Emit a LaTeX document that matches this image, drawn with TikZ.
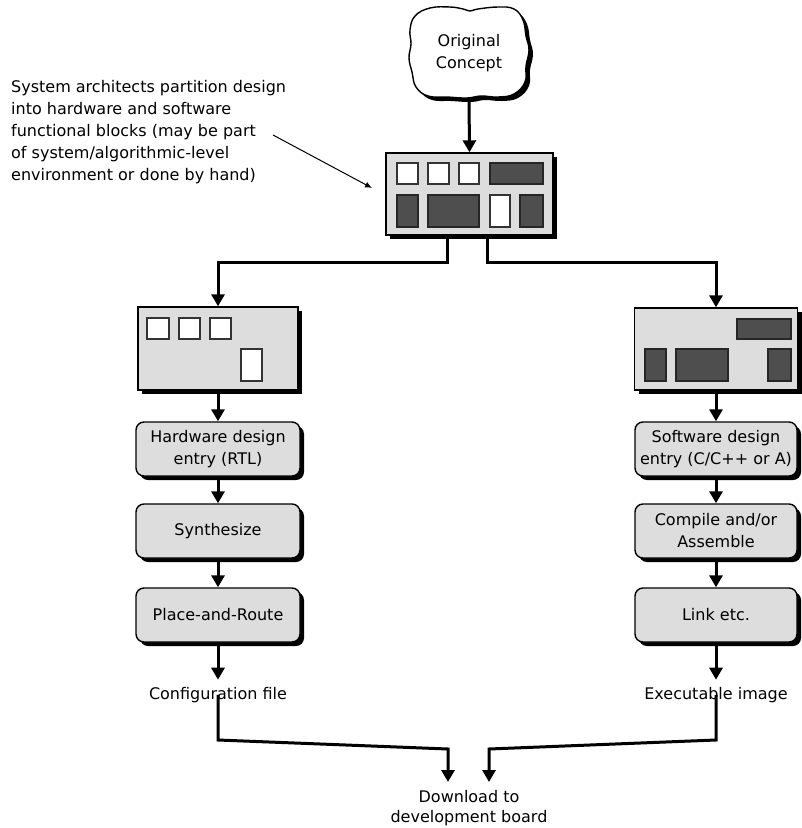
\documentclass[tikz,border=0pt]{standalone}
\usepackage{fontspec}
\setmainfont{DejaVu Sans}
\usetikzlibrary{arrows.meta,shadows}
\definecolor{boxgray}{HTML}{DDDDDD}
\definecolor{darkfill}{HTML}{4E4E4E}
\definecolor{sqline}{HTML}{333333}
\tikzset{
  shd/.style={general shadow={fill=black, shadow xshift=4pt, shadow yshift=-4pt}},
  blockbox/.style={draw=black, line width=1.4pt, fill=boxgray, shd, inner sep=0pt},
  procbox/.style={draw=black, line width=1.4pt, fill=boxgray, shd, rounded corners=8pt,
      minimum width=164pt, minimum height=54pt, align=center, inner sep=2pt},
  wsq/.style={draw=sqline, line width=1.6pt, fill=white},
  dsq/.style={draw=black!85, line width=1.4pt, fill=darkfill},
  arr/.style={line width=3pt, -{Triangle[width=13pt,length=12pt]}},
  lbl/.style={align=center, inner sep=0pt},
}
\begin{document}
\begin{tikzpicture}[x=1pt,y=-1pt, font=\fontsize{16}{22}\selectfont]
\useasboundingbox (0,0) rectangle (802,828);

% cloud outline (shadow then body)
\def\blob{(430,8) (450,7) (463,9) (470,11) (478,9) (498,7) (514,9) (523,20) (526,36) (529,50) (526,66) (525,82) (514,94) (498,97) (481,96) (467,98) (447,97) (428,96) (416,87) (412,72) (409,58) (411,44) (410,30) (415,16)}
\fill[black, shift={(4,4)}] plot[smooth cycle, tension=0.7] coordinates {\blob};
\draw[black, line width=1.4pt, fill=white] plot[smooth cycle, tension=0.7] coordinates {\blob};
\node[align=center, inner sep=0pt, minimum width=110pt, minimum height=88pt] (concept) at (469,53) {Original\\Concept};

% annotation
\node[anchor=north west, align=left, inner sep=0pt] (note) at (11,80)
  {System architects partition design\\into hardware and software\\functional blocks (may be part\\of system/algorithmic-level\\environment or done by hand)};
\coordinate (noteS) at (273,135);
\coordinate (noteE) at (372,188);
\draw[line width=1pt, -{Latex[length=7pt,width=6pt]}] (noteS) -- (noteE);

% top block
\node[blockbox, minimum width=167pt, minimum height=82pt] (top) at (469.5,194) {};
\draw[wsq] (397,163) rectangle (418,184);
\draw[wsq] (428,163) rectangle (449,184);
\draw[wsq] (459,163) rectangle (479,184);
\draw[dsq] (490,163) rectangle (543,184);
\draw[dsq] (397,195) rectangle (418,227);
\draw[dsq] (428,195) rectangle (479,227);
\draw[wsq] (490,195) rectangle (510,227);
\draw[dsq] (520,195) rectangle (543,227);

\draw[arr] (concept.south) -- (top.north);

% left middle block
\node[blockbox, minimum width=160pt, minimum height=83pt] (lmid) at (218,348.5) {};
\draw[wsq] (147,318) rectangle (169,339);
\draw[wsq] (179,318) rectangle (200,339);
\draw[wsq] (210,318) rectangle (231,339);
\draw[wsq] (241,349) rectangle (262,381);

% right middle block
\node[blockbox, minimum width=163pt, minimum height=82pt] (rmid) at (716,349) {};
\draw[dsq] (737,319) rectangle (791,339);
\draw[dsq] (645,349) rectangle (666,381);
\draw[dsq] (676,349) rectangle (728,381);
\draw[dsq] (768,349) rectangle (791,381);

\draw[arr] ([xshift=-22pt]top.south) -- ++(0,27) -| (lmid.north);
\draw[arr] ([xshift=18pt]top.south) -- ++(0,27) -| (rmid.north);

% left column
\node[procbox] (hw) at (218,449) {Hardware design\\entry (RTL)};
\node[procbox] (syn) at (218,531) {Synthesize};
\node[procbox] (par) at (218,615) {Place-and-Route};
\node[lbl] (cfg) at (218,695) {Configuration file};

% right column
\node[procbox, minimum width=162pt] (sw) at (716,449) {Software design\\entry (C/C++ or A)};
\node[procbox, minimum width=162pt] (cmp) at (716,531) {Compile and/or\\Assemble};
\node[procbox, minimum width=162pt] (lnk) at (716,615) {Link etc.};
\node[lbl] (exe) at (716,695) {Executable image};

\draw[arr] (lmid.south) -- (hw.north);
\draw[arr] (hw.south) -- (syn.north);
\draw[arr] (syn.south) -- (par.north);
\draw[arr] (par.south) -- ++(0,37);

\draw[arr] (rmid.south) -- (sw.north);
\draw[arr] (sw.south) -- (cmp.north);
\draw[arr] (cmp.south) -- (lnk.north);
\draw[arr] (lnk.south) -- ++(0,37);

% bottom
\node[lbl, font=\fontsize{16}{20}\selectfont] (dl) at (469,808) {Download to\\development board};
\coordinate (lbend) at (218,740);
\coordinate (lbend2) at (448,749);
\coordinate (rbend) at (716,740);
\coordinate (rbend2) at (489,749);
\draw[arr] ([yshift=8pt]cfg.south) -- (lbend) -- (lbend2) -- (448,782);
\draw[arr] ([yshift=8pt]exe.south) -- (rbend) -- (rbend2) -- (489,782);
\end{tikzpicture}
\end{document}
